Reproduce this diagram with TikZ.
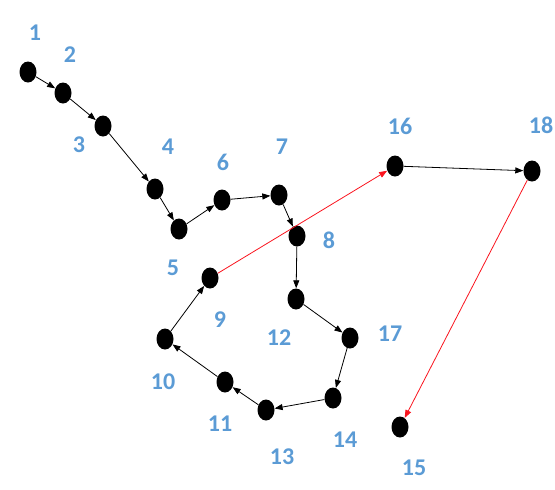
\documentclass[tikz,border=0pt]{standalone}
\usepackage{fontspec}
\setmainfont{Carlito}
\usepackage{tikz}
\usetikzlibrary{shapes.geometric, arrows.meta}
\definecolor{labelblue}{RGB}{91, 155, 213}
\definecolor{hopred}{RGB}{250, 20, 30}

\begin{document}
\begin{tikzpicture}[x=1pt, y=-1pt,
    vertex/.style={ellipse, fill=black, minimum width=17pt, minimum height=21pt, inner sep=0pt},
    num/.style={text=labelblue, font=\fontsize{24}{24}\selectfont\bfseries, inner sep=1pt},
    link/.style={draw=black, line width=0.8pt, -{Triangle[length=8pt, width=6pt]}},
    jump/.style={draw=hopred, line width=0.8pt, -{Triangle[length=8pt, width=6pt]}}]

    \useasboundingbox (0,0) rectangle (555,490);

    % vertices
    \node[vertex] (v1) at (28,72) {};
    \node[vertex] (v2) at (63,93) {};
    \node[vertex] (v3) at (103,126) {};
    \node[vertex] (v4) at (155,189) {};
    \node[vertex] (v5) at (179,229) {};
    \node[vertex] (v6) at (222,200) {};
    \node[vertex] (v7) at (279,195) {};
    \node[vertex] (v8) at (297,236) {};
    \node[vertex] (v9) at (210,278) {};
    \node[vertex] (v10) at (165,339) {};
    \node[vertex] (v11) at (225,382) {};
    \node[vertex] (v12) at (296,299) {};
    \node[vertex] (v13) at (266,410) {};
    \node[vertex] (v14) at (333,398) {};
    \node[vertex] (v15) at (400,427) {};
    \node[vertex] (v16) at (395,166) {};
    \node[vertex] (v17) at (350,338) {};
    \node[vertex] (v18) at (532,171) {};

    % numbers
    \node[num] (n1) at (35,33) {1};
    \node[num] (n2) at (70,55) {2};
    \node[num] (n3) at (79,145) {3};
    \node[num] (n4) at (168,147) {4};
    \node[num] (n5) at (173,268) {5};
    \node[num] (n6) at (223,162) {6};
    \node[num] (n7) at (282,147) {7};
    \node[num] (n8) at (329,240) {8};
    \node[num] (n9) at (220,320) {9};
    \node[num] (n10) at (163,382) {10};
    \node[num] (n11) at (220,424) {11};
    \node[num] (n12) at (279,338) {12};
    \node[num] (n13) at (282,457) {13};
    \node[num] (n14) at (345,440) {14};
    \node[num] (n15) at (414,468) {15};
    \node[num] (n16) at (400,126) {16};
    \node[num] (n17) at (390,334) {17};
    \node[num] (n18) at (541,125) {18};

    % path
    \draw[link] (v1) -- (v2);
    \draw[link] (v2) -- (v3);
    \draw[link] (v3) -- (v4);
    \draw[link] (v4) -- (v5);
    \draw[link] (v5) -- (v6);
    \draw[link] (v6) -- (v7);
    \draw[link] (v7) -- (v8);
    \draw[link] (v8) -- (v12);
    \draw[link] (v12) -- (v17);
    \draw[link] (v17) -- (v14);
    \draw[link] (v14) -- (v13);
    \draw[link] (v13) -- (v11);
    \draw[link] (v11) -- (v10);
    \draw[link] (v10) -- (v9);
    \draw[jump] (v9) -- (v16);
    \draw[link] (v16) -- (v18);
    \draw[jump] (v18) -- (v15);

\end{tikzpicture}
\end{document}
